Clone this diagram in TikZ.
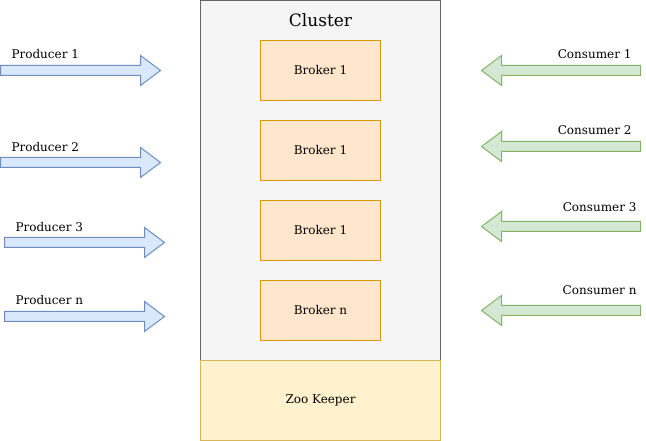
\documentclass[tikz,border=0pt]{standalone}
\usepackage{fontspec}
\setmainfont{DejaVu Serif}
\definecolor{ProdFill}{HTML}{DAE8FC}
\definecolor{ProdLine}{HTML}{6C8EBF}
\definecolor{ConsFill}{HTML}{D5E8D4}
\definecolor{ConsLine}{HTML}{82B366}
\definecolor{BrokFill}{HTML}{FFE6CC}
\definecolor{BrokLine}{HTML}{D79B00}
\definecolor{ClusFill}{HTML}{F5F5F5}
\definecolor{ClusLine}{HTML}{666666}
\definecolor{ZooFill}{HTML}{FFF2CC}
\definecolor{ZooLine}{HTML}{D6B656}

% block arrow pointing right: x of tail, y of centre
\newcommand{\prodarrow}[2]{%
	\draw[prodarr] (#1,#2-5) -- (#1+140,#2-5) -- (#1+140,#2-15) -- (#1+160,#2)
		-- (#1+140,#2+15) -- (#1+140,#2+5) -- (#1,#2+5) -- cycle;}
% block arrow pointing left: x of tip, y of centre
\newcommand{\consarrow}[2]{%
	\draw[consarr] (#1+159,#2-5) -- (#1+20,#2-5) -- (#1+20,#2-15) -- (#1,#2)
		-- (#1+20,#2+15) -- (#1+20,#2+5) -- (#1+159,#2+5) -- cycle;}

\begin{document}
\begin{tikzpicture}[x=0.75pt, y=-0.75pt, line width=0.75pt,
	every node/.style={font=\fontsize{9}{10}\selectfont, inner sep=0pt},
	prodarr/.style={fill=ProdFill, draw=ProdLine, line join=miter},
	consarr/.style={fill=ConsFill, draw=ConsLine, line join=miter},
	broker/.style={rectangle, fill=BrokFill, draw=BrokLine, minimum width=90pt, minimum height=45pt}]
	
	\useasboundingbox (0,0) rectangle (646,441);
	
	% cluster and zookeeper
	\draw[fill=ClusFill, draw=ClusLine] (200.5,0.5) rectangle (440.5,360.5);
	\node (cluster) at (320.5,20) {\fontsize{12.75}{14}\selectfont Cluster};
	\draw[fill=ZooFill, draw=ZooLine] (200.5,360.5) rectangle (440.5,440.5);
	\node (zoo) at (320.5,400.5) {Zoo Keeper};
	
	% brokers
	\node[broker] (b1) at (320.5,70.5) {Broker 1};
	\node[broker] (b2) at (320.5,150.5) {Broker 1};
	\node[broker] (b3) at (320.5,230.5) {Broker 1};
	\node[broker] (bn) at (320.5,310.5) {Broker n};
	
	% producers
	\prodarrow{0.5}{70.5}
	\node[anchor=west] (p1) at (11,54) {Producer 1};
	\prodarrow{0.5}{162.5}
	\node[anchor=west] (p2) at (11,147) {Producer 2};
	\prodarrow{4.5}{242.5}
	\node[anchor=west] (p3) at (15,227) {Producer 3};
	\prodarrow{4.5}{316.5}
	\node[anchor=west] (pn) at (15,300) {Producer n};
	
	% consumers
	\consarrow{481.5}{70.5}
	\node[anchor=east] (c1) at (632,54) {Consumer 1};
	\consarrow{481.5}{146.5}
	\node[anchor=east] (c2) at (632,130) {Consumer 2};
	\consarrow{481.5}{226.5}
	\node[anchor=east] (c3) at (637,207) {Consumer 3};
	\consarrow{481.5}{310.5}
	\node[anchor=east] (cn) at (637,290) {Consumer n};
\end{tikzpicture}
\end{document}
